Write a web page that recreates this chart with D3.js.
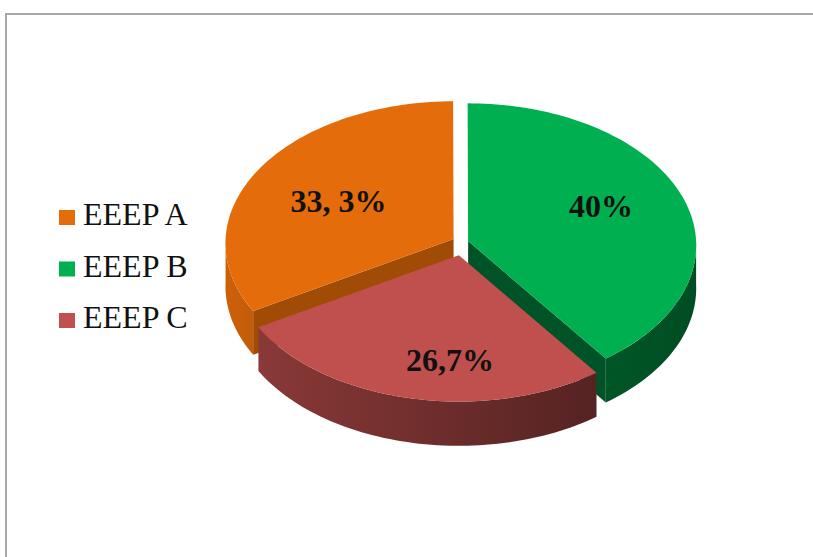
<!DOCTYPE html>
<html>
<head>
<meta charset="utf-8">
<script src="https://cdn.jsdelivr.net/npm/d3@7"></script>
<style>
  html, body { margin: 0; padding: 0; background: #ffffff; }
  svg { display: block; }
</style>
</head>
<body>
<script>
// Share of each programme (percent)
const categories = ["EEEP A", "EEEP B", "EEEP C"];
const shares = [33.3, 40, 26.7];
const valueLabels = ["33, 3%", "40%", "26,7%"];
const palette = ["#E46C0A", "#00B050", "#C0504D"];

const W = 813, H = 557;
const svg = d3.select("body").append("svg").attr("width", W).attr("height", H);

// chart area frame (continues past the right and bottom edges)
svg.append("rect")
  .attr("x", 6).attr("y", 14).attr("width", W + 40).attr("height", H + 40)
  .attr("fill", "#ffffff").attr("stroke", "#a8a8a8").attr("stroke-width", 2);

const color = d3.scaleOrdinal().domain(categories).range(palette);

// 3-D pie geometry: tilted disc with slight perspective
const cx = 460.5, cy = 244.5;
const rx = 228, ry = 142;
const depth = 43;
const persp = 0.03;
const explodeX = 8, explodeY = 11;

const pie = d3.pie().sort(null).value(d => d.value)
  .startAngle(4 * Math.PI / 3).endAngle(4 * Math.PI / 3 + 2 * Math.PI);

const data = categories.map((c, i) => ({ name: c, value: shares[i], label: valueLabels[i] }));
const arcs = pie(data);

function project(a, r, z, off, rv) {
  const u = r * Math.sin(a), v = -(rv === undefined ? r : rv) * Math.cos(a);
  const f = 1 + persp * v;
  return [cx + off[0] + u * rx * f, cy + off[1] + v * ry * f + z * depth * f];
}

const line = d3.line();
const steps = 120;

function arcPoints(a0, a1, z, off) {
  const pts = [];
  const n = Math.max(2, Math.ceil(Math.abs(a1 - a0) / (2 * Math.PI) * steps * 2));
  for (let k = 0; k <= n; k++) pts.push(project(a0 + (a1 - a0) * k / n, 1, z, off));
  return pts;
}

function explodeOffset(mid) {
  return [explodeX * Math.sin(mid), -explodeY * Math.cos(mid)];
}

const defs = svg.append("defs");
const g = svg.append("g");

// paint back to front: order slices by how far forward their middle sits
const order = arcs.map((d, i) => i)
  .sort((i, j) => -Math.cos((arcs[i].startAngle + arcs[i].endAngle) / 2) + Math.cos((arcs[j].startAngle + arcs[j].endAngle) / 2));

order.forEach(i => {
  const d = arcs[i];
  const a0 = d.startAngle, a1 = d.endAngle, mid = (a0 + a1) / 2;
  const off = explodeOffset(mid);
  const base = d3.color(color(d.data.name));

  // radial walls facing the viewer
  [[a0, a0 - Math.PI / 2], [a1, a1 + Math.PI / 2]].forEach(([a, nrm]) => {
    if (-Math.cos(nrm) > 0.01) {
      const p = [project(0, 0, 0, off), project(a, 1, 0, off), project(a, 1, 1, off), project(0, 0, 1, off)];
      g.append("path").attr("d", line(p) + "Z")
        .attr("fill", base.darker(i === 1 ? 2.1 : 1).formatHex());
    }
  });

  // outer curved wall where it faces the viewer
  const segs = [];
  for (let s = Math.floor(a0 / (2 * Math.PI)) - 1; s <= Math.ceil(a1 / (2 * Math.PI)); s++) {
    const v0 = s * 2 * Math.PI + Math.PI / 2, v1 = s * 2 * Math.PI + 3 * Math.PI / 2;
    const b0 = Math.max(a0, v0), b1 = Math.min(a1, v1);
    if (b1 > b0 + 1e-6) segs.push([b0, b1]);
  }
  segs.forEach(([b0, b1], k) => {
    const top = arcPoints(b0, b1, 0, off);
    const bottom = arcPoints(b1, b0, 1, off);
    const xs = top.map(p => p[0]);
    const gid = "side" + i + "_" + k;
    const grad = defs.append("linearGradient").attr("id", gid)
      .attr("gradientUnits", "userSpaceOnUse")
      .attr("x1", d3.min(xs)).attr("x2", d3.max(xs)).attr("y1", 0).attr("y2", 0);
    let c0, c1;
    if (i === 0) { c0 = base.darker(0.3); c1 = base.darker(0.45); }
    else if (i === 1) { c0 = base.darker(2.0); c1 = base.darker(2.3); }
    else { c0 = base.darker(0.95); c1 = base.darker(2.3); }
    grad.append("stop").attr("offset", 0).attr("stop-color", c0.formatHex());
    grad.append("stop").attr("offset", 1).attr("stop-color", c1.formatHex());
    g.append("path").attr("d", line(top.concat(bottom)) + "Z").attr("fill", `url(#${gid})`);
  });

  // top face
  const face = [project(0, 0, 0, off)].concat(arcPoints(a0, a1, 0, off));
  g.append("path").attr("d", line(face) + "Z").attr("fill", base.formatHex());
});

// value labels, placed inside each slice just ahead of its bisector
const labelTurn = 5 * Math.PI / 180;
arcs.forEach(d => {
  const mid = (d.startAngle + d.endAngle) / 2;
  const p = project(mid - labelTurn, 0.6, 0, explodeOffset(mid), 0.7);
  svg.append("text")
    .attr("x", p[0] + 8).attr("y", p[1] + 4)
    .attr("text-anchor", "middle").attr("dominant-baseline", "central")
    .attr("font-family", "'Liberation Serif', 'Times New Roman', serif")
    .attr("font-weight", "bold").attr("font-size", 32).attr("fill", "#111")
    .text(d.data.label);
});

// legend
const legend = svg.append("g").attr("transform", "translate(59,225)");
const rowY = d3.scalePoint().domain(categories).range([0, 103]);
categories.forEach(c => {
  const row = legend.append("g").attr("transform", `translate(0,${rowY(c)})`);
  row.append("rect").attr("x", 0).attr("y", -15).attr("width", 16).attr("height", 15).attr("fill", color(c));
  row.append("text").attr("x", 24).attr("y", 0)
    .attr("font-family", "'Liberation Serif', 'Times New Roman', serif")
    .attr("font-size", 32).attr("fill", "#111")
    .text(c);
});
</script>
</body>
</html>
